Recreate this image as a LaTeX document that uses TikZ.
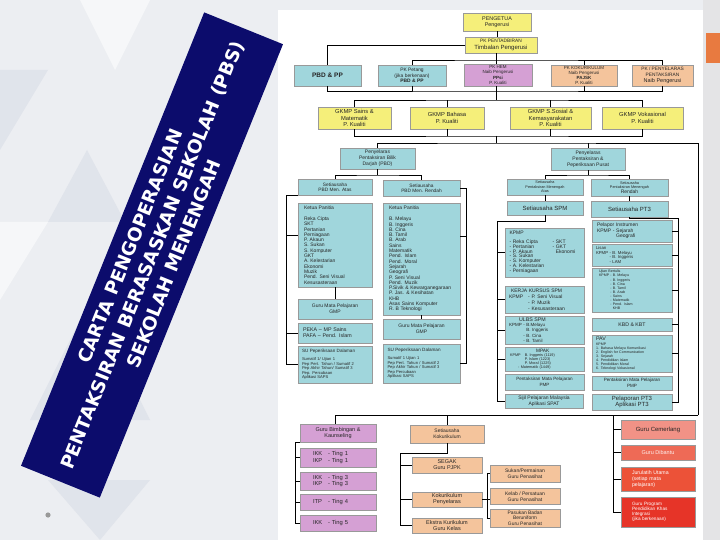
\documentclass[tikz,border=0pt]{standalone}
\usepackage{fontspec}
\setmainfont{Liberation Sans}
\newfontfamily\bannerfont{DejaVu Sans}
\newcommand{\fz}[2]{\fontsize{#1}{#2}\selectfont}
\definecolor{bggray}{RGB}{236,238,242}
\definecolor{trigray}{RGB}{224,228,235}
\definecolor{trilight}{RGB}{246,247,249}
\definecolor{stripgray}{RGB}{228,228,230}
\definecolor{bannerblue}{RGB}{12,12,108}
\definecolor{accent}{RGB}{232,122,64}
\definecolor{boxyellow}{RGB}{245,239,122}
\definecolor{boxcyan}{RGB}{160,214,220}
\definecolor{boxmagenta}{RGB}{213,160,212}
\definecolor{boxpeach}{RGB}{244,196,156}
\definecolor{redA}{RGB}{241,146,134}
\definecolor{redB}{RGB}{238,106,86}
\definecolor{redC}{RGB}{236,82,56}
\definecolor{redD}{RGB}{230,52,40}
\begin{document}
\begin{tikzpicture}[x=1pt,y=-1pt,line width=0.8pt]
\tikzstyle{every node}+=[inner sep=0pt]
\tikzstyle{box}=[draw=black!40,line width=0.4pt,align=center,text=black!85,font=\fz{5}{5.8}]
\tikzstyle{yel}=[box,fill=boxyellow]
\tikzstyle{cya}=[box,fill=boxcyan]
\tikzstyle{mag}=[box,fill=boxmagenta]
\tikzstyle{pea}=[box,fill=boxpeach]
\tikzstyle{lst}=[align=left]
\useasboundingbox (0,0) rectangle (720,540);
% background
\fill [bggray] (0,0) rectangle (720,540);
\fill [trigray] (0,70) -- (48,70) -- (0,150) -- cycle;
\fill [trilight] (80,0) -- (150,0) -- (115,70) -- cycle;
\fill [trigray] (48,222) -- (125,222) -- (87,150) -- cycle;
\fill [trilight] (0,222) -- (48,222) -- (0,300) -- cycle;
\fill [trigray] (30,420) -- (150,420) -- (90,300) -- cycle;
\fill [trigray] (48,480) -- (150,480) -- (100,540) -- cycle;
\fill [stripgray] (703,0) rectangle (720,540);
\fill [accent] (706,33) rectangle (720,63);
\fill [white] (278,10) rectangle (703,540);
\fill [black!40] (48,515) circle (2.6);
% banner
\node [fill=bannerblue,minimum width=489pt,minimum height=85pt,rotate=68,text=white,align=center,font=\bannerfont\bfseries\fz{18.5}{23.5}] (title) at (152,255) {CARTA PENGOPERASIAN\\PENTAKSIRAN BERASASKAN SEKOLAH (PBS)\\SEKOLAH MENENGAH};

% top rows
\node [yel,minimum width=68pt,minimum height=18pt,font=\fz{5.4}{6.4}] (peng) at (497,22) {PENGETUA\\Pengerusi};
\node [yel,minimum width=72pt,minimum height=16pt,font=\fz{6}{6.6}] (pkpt) at (501,45) {{\fz{4.8}{5}PK PENTADBIRAN}\\Timbalan Pengerusi};
\node [cya,minimum width=67pt,minimum height=21pt,font=\bfseries\fz{6.5}{7}] (pbdpp) at (327.5,75.5) {PBD \& PP};
\node [cya,minimum width=68pt,minimum height=21pt,font=\fz{4.9}{5.8}] (pkpg) at (412,75.5) {PK Petang\\(jika berkenaan)\\\textbf{PBD \& PP}};
\node [mag,minimum width=68pt,minimum height=22pt,font=\fz{4.5}{5.1}] (pkhem) at (498,75) {PK HEM\\Naib Pengerusi\\\textbf{PPsi}\\P. Kualiti};
\node [pea,minimum width=66pt,minimum height=21pt,font=\fz{4.5}{5.1}] (pkko) at (584,75.5) {PK KOKURIKULUM\\Naib Pengerusi\\\textbf{PAJSK}\\P. Kualiti};
\node [pea,minimum width=61pt,minimum height=21pt,font=\fz{4.8}{5.8}] (pkpn) at (662.5,75.5) {PK / PENYELARAS\\PENTAKSIRAN\\{\fz{5.5}{5.8}Naib Pengerusi}};
\node [yel,minimum width=73pt,minimum height=22pt,font=\fz{5.8}{6.2}] (gsm) at (354.5,118) {GKMP Sains \&\\Matematik\\P. Kualiti};
\node [yel,minimum width=74pt,minimum height=22pt,font=\fz{5.8}{6.2}] (gbh) at (447,118) {GKMP Bahasa\\P. Kualiti};
\node [yel,minimum width=81pt,minimum height=22pt,font=\fz{5.8}{6.2}] (gss) at (550.5,118) {GKMP S.Sosial \&\\Kemasyarakatan\\P. Kualiti};
\node [yel,minimum width=81pt,minimum height=22pt,font=\fz{5.8}{6.2}] (gvk) at (642.5,118) {GKMP Vokasional\\P. Kualiti};
\node [cya,minimum width=75pt,minimum height=21pt,font=\fz{5}{5.8}] (ppbd) at (377.5,158.5) {Penyelaras\\Pentaksiran Bilik\\Darjah (PBD)};
\node [cya,minimum width=74pt,minimum height=22pt,font=\fz{5}{5.8}] (pppp) at (588,159) {Penyelaras\\Pentaksiran \&\\Peperiksaan Pusat};

% PBD branch
\node [cya,minimum width=74pt,minimum height=16pt,font=\fz{4.8}{5.4}] (sa1) at (335,187) {Setiausaha\\PBD Men. Atas};
\node [cya,minimum width=77pt,minimum height=16pt,font=\fz{4.8}{5.4}] (sa2) at (421.5,188) {Setiausaha\\PBD Men. Rendah};
\node [cya,lst,minimum width=74pt,minimum height=84pt,text width=62pt,font=\fz{5}{5.3}] (kp1) at (335,245) {Ketua Panitia\\[5.7pt]Reka Cipta\\SKT\\Pertanian\\Perniagaan\\P. Akaun\\S. Sukan\\S. Komputer\\GKT\\A. Kelestarian\\Ekonomi\\Muzik\\Pend. Seni Visual\\Kesusasteraan};
\node [cya,lst,minimum width=77pt,minimum height=112pt,text width=65pt,font=\fz{5}{5.3}] (kp2) at (421.5,259) {Ketua Panitia\\[5.7pt]B. Melayu\\B. Inggeris\\B. Cina\\B. Tamil\\B. Arab\\Sains\\Matematik\\Pend. Islam\\Pend. Moral\\Sejarah\\Geografi\\P. Seni Visual\\Pend. Muzik\\P.Sivik \& Kewarganegaraan\\P. Jas. \& Kesihatan\\KHB\\Asas Sains Komputer\\R. B Teknologi};
\node [cya,minimum width=74pt,minimum height=20pt] (gmp1) at (335,309) {Guru Mata Pelajaran\\GMP};
\node [cya,lst,minimum width=74pt,minimum height=20pt,text width=64pt,font=\fz{5.3}{6}] (peka) at (335,333) {PEKA -- MP Sains\\PAFA -- Pend. Islam};
\node [cya,lst,minimum width=74pt,minimum height=37pt,text width=66pt,font=\fz{4.1}{4.4}] (su1) at (335,364.5) {{\fz{4.6}{4.4}SU Peperiksaan Dalaman}\\[3.5pt]Sumatif 1/ Ujian 1\\Pep Pert. Tahun / Sumatif 2\\Pep Akhir Tahun/ Sumatif 3\\Pep. Percubaan\\Aplikasi SAPS};
\node [cya,minimum width=77pt,minimum height=20pt] (gmp2) at (421.5,329) {Guru Mata Pelajaran\\GMP};
\node [cya,lst,minimum width=77pt,minimum height=39pt,text width=68pt,font=\fz{4.1}{4.4}] (su2) at (421.5,363.5) {{\fz{4.6}{4.4}SU Peperiksaan Dalaman}\\[3.5pt]Sumatif 1 Ujian 1\\Pep Pert. Tahun / Sumatif 2\\Pep Akhir Tahun / Sumatif 3\\Pep Percubaan\\Aplikasi SAPS};

% pentaksiran pusat branch
\node [cya,minimum width=76pt,minimum height=16pt,font=\fz{3.8}{4.5}] (sa3) at (545,187) {Setiausaha\\Pentaksiran Menengah\\Atas};
\node [cya,minimum width=77pt,minimum height=17pt,font=\fz{3.8}{4.5}] (sa4) at (629.5,187.5) {Setiausaha\\Pentaksiran Menengah\\{\fz{5}{4.5}Rendah}};
\node [cya,minimum width=76pt,minimum height=14pt,font=\fz{6}{7}] (spm) at (545,208) {Setiausaha SPM};
\node [cya,minimum width=77pt,minimum height=16pt,font=\fz{6}{7}] (pt3) at (629.5,209) {Setiausaha PT3};
\node [cya,lst,minimum width=79pt,minimum height=49pt,text width=70pt,font=\fz{5}{4.9}] (kpmp) at (544.5,252.5) {KPMP\\[3.5pt]\makebox[43pt][l]{- Reka Cipta}- SKT\\\makebox[43pt][l]{- Pertanian}- GKT\\\makebox[43pt][l]{- P. Akaun}\phantom{- }Ekonomi\\- S. Sukan\\- S. Komputer\\- A. Kelestarian\\- Perniagaan};
\node [cya,lst,minimum width=79pt,minimum height=27pt,text width=71pt,font=\fz{5}{6}] (kk) at (544.5,299.5) {\hspace*{2pt}KERJA KURSUS SPM\\KPMP\hspace*{5pt}- P. Seni Visual\\\phantom{KPMP}\hspace*{5pt}- P. Muzik\\\phantom{KPMP}\hspace*{5pt}- Kesusasteraan};
\node [cya,lst,minimum width=79pt,minimum height=28pt,text width=71pt,font=\fz{4.5}{5.3}] (ulbs) at (544.5,330) {\hspace*{10pt}{\fz{5.3}{5.3}ULBS SPM}\\KPMP - B.Melayu\\\phantom{KPMP - }B. Inggeris\\\phantom{KPMP }- B. Cina\\\phantom{KPMP }- B. Tamil};
\node [cya,lst,minimum width=79pt,minimum height=24pt,text width=69pt,font=\fz{3.8}{4.1}] (mpak) at (544.5,359) {\hspace*{26pt}{\fz{4.8}{4.1}MPAK}\\KPMP\hspace*{4pt}B. Inggeris (1119)\\\phantom{KPMP}\hspace*{4pt}P. Islam (1223)\\\phantom{KPMP}\hspace*{4pt}P. Moral (1225)\\\phantom{KPM}- Matematik (1449)};
\node [cya,minimum width=79pt,minimum height=16pt,font=\fz{4.6}{5.6}] (pmp1) at (544.5,382) {Pentaksiran Mata Pelajaran\\PMP};
\node [cya,minimum width=78pt,minimum height=14pt,font=\fz{5}{5.6}] (spa) at (544,401) {Sijil Pelajaran Malaysia\\Aplikasi SPAT};
\node [cya,lst,minimum width=80pt,minimum height=22pt,text width=70pt,font=\fz{5}{5.3}] (pi) at (632,231) {Pelapor Instrumen\\KPMP - Sejarah\\\phantom{KPMP - }Geografi};
\node [cya,lst,minimum width=80pt,minimum height=22pt,text width=72pt,font=\fz{4.3}{4.7}] (lisan) at (632,255) {Lisan\\KPMP - B. Melayu\\\phantom{KPMP }- B. Inggeris\\\phantom{KPMP }- LAM};
\node [cya,lst,minimum width=80pt,minimum height=44pt,text width=66pt,font=\fz{3.6}{4.1}] (ub) at (632,290) {Ujian Bertulis\\KPMP - B. Melayu\\\phantom{KPMP }- B. Inggeris\\\phantom{KPMP }- B. Cina\\\phantom{KPMP }- B. Tamil\\\phantom{KPMP }- B. Arab\\\phantom{KPMP }- Sains\\\phantom{KPMP }- Matematik\\\phantom{KPMP }- Pend. Islam\\\phantom{KPMP - }KHB};
\node [cya,minimum width=80pt,minimum height=13pt,font=\fz{5.2}{6}] (kbd) at (632,324.5) {KBD \& KBT};
\node [cya,lst,minimum width=80pt,minimum height=37pt,text width=72pt,font=\fz{3.6}{3.95}] (pav) at (632,353.5) {{\fz{5.3}{3.95}PAV}\\[1pt]KPMP\\1. Bahasa Melayu Komunikasi\\2. English for Communication\\3. Sejarah\\4. Pendidikan Islam\\5. Pendidikan Moral\\6. Teknologi Vokasional};
\node [cya,minimum width=80pt,minimum height=14pt,font=\fz{4.6}{5.6}] (pmp2) at (632,383) {Pentaksiran Mata Pelajaran\\PMP};
\node [cya,minimum width=80pt,minimum height=16pt,font=\fz{6}{6.2}] (ppt3) at (632,402) {Pelaporan PT3\\Aplikasi PT3};

% bottom branch
\node [mag,minimum width=76pt,minimum height=18pt,font=\fz{5.5}{6.2}] (gbk) at (338,433) {Guru Bimbingan \&\\Kaunseling};
\node [mag,lst,minimum width=76pt,minimum height=19pt,text width=50pt,font=\fz{5.8}{6.2}] (m1) at (338,457.5) {\makebox[15pt][l]{IKK}- Ting 1\\\makebox[15pt][l]{IKP}- Ting 1};
\node [mag,lst,minimum width=76pt,minimum height=18pt,text width=50pt,font=\fz{5.8}{6.2}] (m2) at (338,481) {\makebox[15pt][l]{IKK}- Ting 3\\\makebox[15pt][l]{IKP}- Ting 3};
\node [mag,lst,minimum width=76pt,minimum height=16pt,text width=50pt,font=\fz{5.8}{6.2}] (m3) at (338,502) {\makebox[15pt][l]{ITP}- Ting 4};
\node [mag,lst,minimum width=76pt,minimum height=16pt,text width=50pt,font=\fz{5.8}{6.2}] (m4) at (338,523) {\makebox[15pt][l]{IKK}- Ting 5};
\node [pea,minimum width=74pt,minimum height=18pt,font=\fz{5}{5.6}] (sak) at (447,434) {Setiausaha\\Kokurikulum};
\node [pea,minimum width=70pt,minimum height=16pt,font=\fz{5.5}{6.1}] (seg) at (447,465) {SEGAK\\Guru PJPK};
\node [pea,minimum width=70pt,minimum height=15pt,font=\fz{5.5}{6.1}] (kok) at (447,499.5) {Kokurikulum\\Penyelaras};
\node [pea,minimum width=70pt,minimum height=15pt,font=\fz{5.5}{6.1}] (eks) at (447,525.5) {Ekstra Kurikulum\\Guru Kelas};
\node [pea,minimum width=70pt,minimum height=17pt,font=\fz{5}{5.5}] (sp1) at (525,473.5) {Sukan/Permainan\\Guru Penasihat};
\node [pea,minimum width=70pt,minimum height=16pt,font=\fz{5}{5.5}] (sp2) at (525,496.5) {Kelab / Persatuan\\Guru Penasihat};
\node [pea,minimum width=70pt,minimum height=18pt,font=\fz{4.9}{5.3}] (sp3) at (525,518) {Pasukan Badan\\Beruniform\\Guru Penasihat};
\node [box,fill=redA,minimum width=74pt,minimum height=19pt,font=\fz{6}{6}] (gc) at (658,429.5) {Guru Cemerlang};
\node [box,fill=redB,minimum width=74pt,minimum height=15pt,text=white!90!redB,font=\fz{5.5}{6}] (gd) at (658,452.5) {Guru Dibantu};
\node [box,fill=redC,lst,minimum width=74pt,minimum height=24pt,text width=52pt,text=white,font=\fz{5.2}{5.7}] (ju) at (658,479) {Jurulatih Utama\\(setiap mata\\pelajaran)};
\node [box,fill=redD,lst,minimum width=74pt,minimum height=30pt,text width=52pt,text=white,font=\fz{4.7}{5.2}] (gp) at (658,512) {Guru Program\\Pendidikan Khas\\Integrasi\\(jika berkenaan)};

% connectors
\coordinate (c1) at (496,60);
\coordinate (c2) at (496,91);
\coordinate (c3) at (496,100);
\coordinate (c4) at (496,136);
\coordinate (c5) at (496,143);
\coordinate (rr) at (698,415);
\draw [black] (peng.south) -- (peng.south |- pkpt.north);
\draw [black] (pkpt.west) -| (pbdpp.north);
\draw [black] (pkpt.south -| c1) -- (c1);
\draw [black] (pkpg.north) |- (c1) -| (pkpn.north);
\draw [black] (c1) -- (c1 |- pkhem.north);
\draw [black] (pkko.north) -- (pkko.north |- c1);
\draw [black] (pbdpp.south) |- (c2) -| (pkpn.south);
\draw [black] (pkpg.south) -- (pkpg.south |- c2);
\draw [black] (c2 |- pkhem.south) -- (c3);
\draw [black] (pkko.south) -- (pkko.south |- c2);
\draw [black] (gsm.north) |- (c3) -| (gvk.north);
\draw [black] (gbh.north) -- (gbh.north |- c3);
\draw [black] (gss.north) -- (gss.north |- c3);
\draw [black] (gsm.south) |- (c4) -| (gvk.south);
\draw [black] (gbh.south) -- (gbh.south |- c4);
\draw [black] (gss.south) -- (gss.south |- c4);
\draw [black] (c4) -- (c5);
\draw [black] (ppbd.north) |- (c5) -- (c5 -| rr) -- (rr);
\draw [black] (pppp.north) -- (pppp.north |- c5);

\coordinate (c6) at (377.5,175);
\coordinate (lx) at (286,196);
\coordinate (rx) at (466,188);
\draw [black] (ppbd.south) -- (c6);
\draw [black] (sa1.north) |- (c6) -| (sa2.north);
\draw [black] (sa1.south west) -| (lx |- su1.west) -- (su1.west);
\draw [black] ([yshift=10pt]kp1.west) -- ([yshift=10pt]kp1.west -| lx);
\draw [black] (peka.west) -- (peka.west -| lx);
\draw [black] (kp1.south) -- (gmp1.north);
\draw [black] (sa2.east) -| (rx |- su2.east) -- (su2.east);
\draw [black] ([yshift=23pt]kp2.east) -- ([yshift=23pt]kp2.east -| rx);
\draw [black] (kp2.south) -- (gmp2.north);

\coordinate (c7) at (588,175);
\coordinate (lx2) at (497,221);
\coordinate (rx2) at (678,218);
\draw [black] (pppp.south) -- (c7);
\draw [black] (sa3.north) |- (c7) -| (sa4.north);
\draw [black] (sa3.south) -- (spm.north);
\draw [black] (sa4.south) -- (pt3.north);
\draw [black] (spm.south) |- (lx2) |- (spa.west);
\foreach \n in {kpmp,kk,ulbs,mpak}
  \draw [black] (\n.west) -- (\n.west -| lx2);
\draw [black] (pt3.south) |- (rx2) |- (ppt3.east);
\foreach \n in {pi,lisan,ub,kbd,pav}
  \draw [black] (\n.east) -- (\n.east -| rx2);

\coordinate (c8) at (335,415);
\coordinate (cg) at (613,415);
\coordinate (lx3) at (295,442);
\coordinate (c9) at (400,453);
\coordinate (bx) at (487,474);
\draw [black] (rr) -- (c8) -- (c8 |- gbk.north);
\draw [black] (sak.north) -- (sak.north |- c8);
\draw [black] (cg) |- (gp.west);
\foreach \n in {gc,gd,ju}
  \draw [black] (\n.west) -- (\n.west -| cg);
\draw [black] (gbk.south west) -| (lx3 |- m4.west) -- (m4.west);
\foreach \n in {m1,m2,m3}
  \draw [black] (\n.west) -- (\n.west -| lx3);
\draw [black] (sak.south) |- (c9) |- (eks.west);
\foreach \n in {seg,kok}
  \draw [black] (\n.west) -- (\n.west -| c9);
\draw [black] (kok.east) -- (kok.east -| sp2.west);
\draw [black] (sp1.west) -| (bx |- sp3.west) -- (sp3.west);
\end{tikzpicture}
\end{document}
